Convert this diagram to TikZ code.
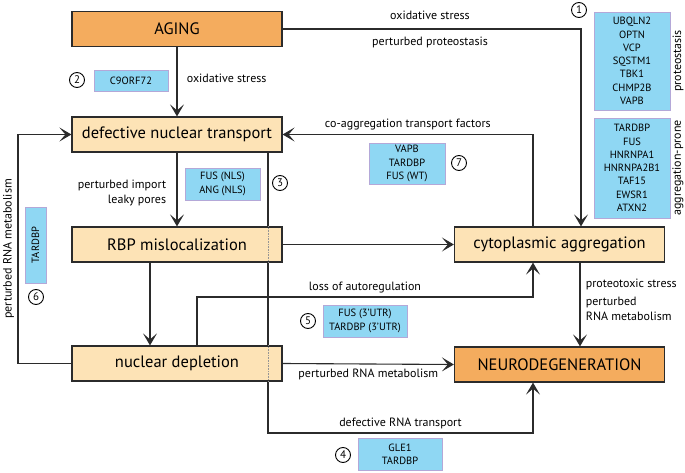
\documentclass[tikz,border=0pt]{standalone}
\usepackage{fontspec}
\setmainfont{PT Sans}
\usepackage{xcolor}
\usetikzlibrary{arrows.meta, positioning, calc, backgrounds}

\definecolor{agecol}{HTML}{F4AC5E}
\definecolor{proccol}{HTML}{FDE3B6}
\definecolor{genecol}{HTML}{8FD7F3}
\definecolor{generim}{HTML}{B4A8D8}
\definecolor{linecol}{HTML}{2B2B2B}

\begin{document}
\begin{tikzpicture}[
    x=1pt, y=-1pt,
    box/.style={rectangle, draw=linecol, line width=1.2pt, minimum width=210pt, minimum height=35pt, align=center, font=\fontsize{16.5}{19}\selectfont},
    gene/.style={rectangle, draw=generim, line width=0.8pt, fill=genecol, align=center, inner sep=1pt, font=\fontsize{10.5}{13.3}\selectfont},
    num/.style={circle, draw, line width=0.9pt, minimum size=15pt, inner sep=0pt, font=\fontsize{11}{12}\selectfont},
    lbl/.style={font=\fontsize{12}{15}\selectfont},
    arrow/.style={-{Stealth[length=12pt, width=14pt, inset=6pt]}, line width=1.1pt, draw=linecol}
]
\useasboundingbox (0,0) rectangle (685,473);

% Nodes
\node[box, fill=agecol] (aging) at (177,29) {AGING};
\node[box, fill=proccol] (dnt) at (177,134.5) {defective nuclear transport};
\node[box, fill=proccol] (rbp) at (177,244.5) {RBP mislocalization};
\node[box, fill=proccol] (depl) at (177,363.5) {nuclear depletion};
\node[box, fill=proccol] (cyto) at (559.5,244.5) {cytoplasmic aggregation};
\node[box, fill=agecol] (neuro) at (559.5,364.5) {NEURODEGENERATION};

% Genes
\node[gene, minimum width=74pt, minimum height=21pt] (c9) at (131,80.5) {C9ORF72};
\node[gene, minimum width=75pt, minimum height=32pt] (nls) at (222.5,184) {FUS (NLS)\\ANG (NLS)};
\node[gene, minimum width=76pt, minimum height=98pt] (proteo) at (632,61) {UBQLN2\\OPTN\\VCP\\SQSTM1\\TBK1\\CHMP2B\\VAPB};
\node[gene, minimum width=76pt, minimum height=100pt] (aggr) at (632,168) {TARDBP\\FUS\\HNRNPA1\\HNRNPA2B1\\TAF15\\EWSR1\\ATXN2};
\node[gene, minimum width=76pt, minimum height=41pt] (coag) at (407,163.5) {VAPB\\TARDBP\\FUS (WT)};
\node[gene, rotate=90, minimum width=76pt, minimum height=21pt] (tdp) at (35.5,245) {TARDBP};
\node[gene, minimum width=84pt, minimum height=32pt] (utr) at (365,321) {FUS (3’UTR)\\TARDBP (3’UTR)};
\node[gene, minimum width=84pt, minimum height=32pt] (gle) at (400,454) {GLE1\\TARDBP};

% Numbers
\node[num] (n1) at (579,10) {1};
\node[num] (n2) at (77,80) {2};
\node[num] (n3) at (280,183) {3};
\node[num] (n4) at (343,455) {4};
\node[num] (n5) at (308,321) {5};
\node[num] (n6) at (36,297) {6};
\node[num] (n7) at (459,163) {7};

% Side labels
\node[lbl, rotate=90] (lproteo) at (678,61) {proteostasis};
\node[lbl, rotate=90] (laggr) at (678,168) {aggregation-prone};

% Bends
\coordinate (b1) at (581,29);
\coordinate (b2) at (533,134.5);
\coordinate (b3) at (268,433);
\coordinate (b4) at (533,433);
\coordinate (b5) at (197,297);
\coordinate (b6) at (533,297);
\coordinate (b7) at (18,363.5);
\coordinate (b8) at (580,0);

% Arrows
\draw[arrow] (aging.east) -- (b1) -- (b1 |- cyto.north);
\node[lbl] at (430,15) {oxidative stress};
\node[lbl] at (430,42) {perturbed proteostasis};
\draw[arrow] (aging) -- node[lbl, right=6pt, pos=0.45] {oxidative stress} (dnt);
\draw[arrow] (b2 |- cyto.north) -- (b2) -- node[lbl, above=1pt, pos=0.5] {co-aggregation transport factors} (dnt.east);
\draw[arrow] (dnt) -- node[lbl, left=7pt, align=right, pos=0.55] {perturbed import\\leaky pores} (rbp);
\begin{scope}[on background layer]
\draw[arrow] (b3 |- dnt.south) -- (b3) -- node[lbl, above=0pt] {defective RNA transport} (b4) -- (b4 |- neuro.south);
\end{scope}
\draw[densely dotted, linecol!50, line width=0.6pt] (b3 |- rbp.north) -- (b3 |- rbp.south);
\draw[densely dotted, linecol!50, line width=0.6pt] (b3 |- depl.north) -- (b3 |- depl.south);
\draw[arrow] (rbp.east) -- (cyto.west);
\draw[arrow] ($(rbp.south)+(-27,0)$) -- ($(depl.north)+(-27,0)$);
\draw[arrow] (b5 |- depl.north) -- (b5) -- node[lbl, above=0pt] {loss of autoregulation} (b6) -- (b6 |- cyto.south);
\draw[arrow] (depl.east) -- node[lbl, below=1pt] {perturbed RNA metabolism} (neuro.west);
\draw[arrow] (depl.west) -- (b7) |- node[lbl, rotate=90, above=0pt, pos=0.25] {perturbed RNA metabolism} (dnt.west);
\draw[arrow] (b8 |- cyto.south) -- node[lbl, right=2pt, align=left, pos=0.45] {proteotoxic stress\\[3pt]perturbed\\RNA metabolism} (b8 |- neuro.north);

\end{tikzpicture}
\end{document}
